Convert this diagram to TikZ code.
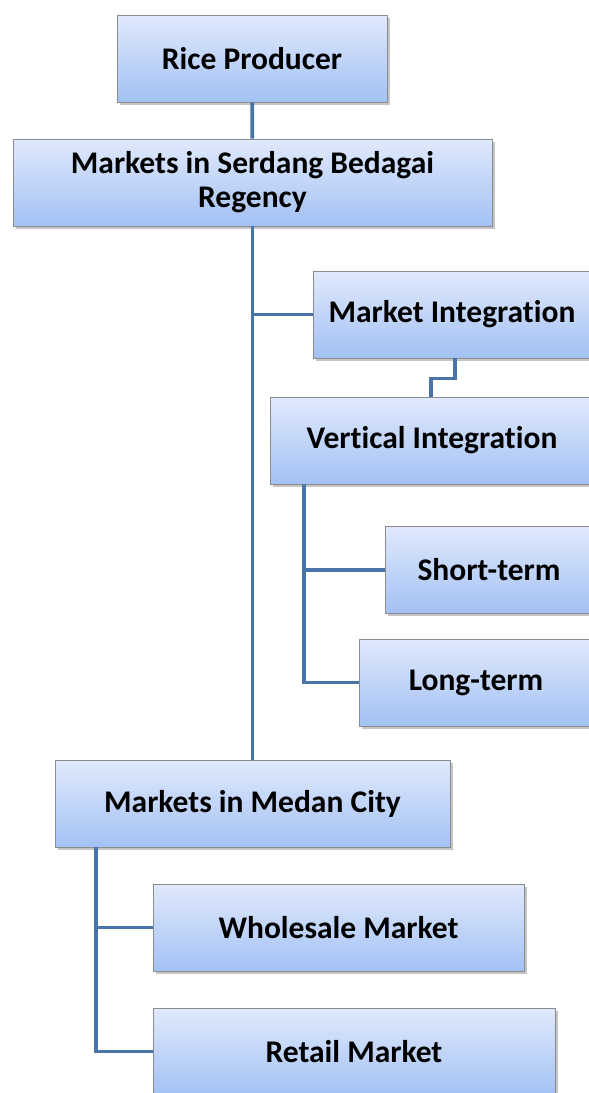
\documentclass[tikz,border=0pt]{standalone}
\usepackage{fontspec}
\setmainfont[Ligatures=NoCommon]{Carlito}
\usepackage{tikz}
\usetikzlibrary{calc}
\usetikzlibrary{positioning}
\usetikzlibrary{shadows}
\definecolor{boxtop}{RGB}{224,233,252}
\definecolor{boxbot}{RGB}{163,193,244}
\definecolor{boxline}{RGB}{140,140,140}
\definecolor{linkblue}{RGB}{72,116,168}
\tikzstyle{marketbox} = [draw=boxline, line width=0.8pt, rectangle, top color=boxtop, bottom color=boxbot,
    minimum height=87pt, align=center, inner sep=0pt,
    font=\fontsize{31.5}{34}\selectfont\bfseries,
    drop shadow={shadow xshift=2.5pt, shadow yshift=-2.5pt, fill=black!45}]
\tikzstyle{link} = [draw=linkblue, line width=3.8pt]

\begin{document}
\begin{tikzpicture}[x=1pt, y=-1pt]
\useasboundingbox (0,0) rectangle (589,1093);
\clip (0,0) rectangle (589,1093);
% main chain
\node[marketbox, minimum width=270pt] (rice) at (252,58.5) {Rice Producer};
\node[marketbox, minimum width=479pt] (serdang) at (252.5,182.5) {Markets in Serdang Bedagai\\Regency};
\node[marketbox, minimum width=395pt] (medan) at (252.5,803.5) {Markets in Medan City};
% integration branch
\node[marketbox, minimum width=278pt] (integ) at (452,314.5) {Market Integration};
\node[marketbox, minimum width=324pt] (vert) at (432,440.5) {Vertical Integration};
\node[marketbox, minimum width=208pt] (short) at (489,570) {Short-term};
\node[marketbox, minimum width=234pt] (long) at (476,682.5) {Long-term};
% market types
\node[marketbox, minimum width=371pt] (whole) at (338.5,927.5) {Wholesale Market};
\node[marketbox, minimum width=402pt] (retail) at (354,1051.5) {Retail Market};

\draw[link] (rice) -- (serdang);
\draw[link] (serdang.south) -- (medan.north);
\draw[link] (serdang.south |- integ.west) -- (integ.west);
\draw[link] ($(integ.south west)+(142,0)$) -- ++(0,20) -| ($(vert.north west)+(161,0)$);
\draw[link] ($(vert.south west)+(34,0)$) |- (short.west);
\draw[link] ($(vert.south west)+(34,0)$) |- (long.west);
\draw[link] ($(medan.south west)+(41,0)$) |- (whole.west);
\draw[link] ($(medan.south west)+(41,0)$) |- (retail.west);
\end{tikzpicture}
\end{document}
